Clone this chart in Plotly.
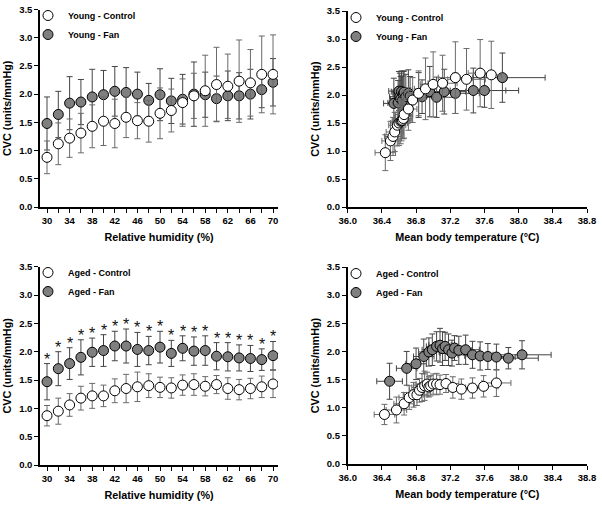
import plotly.graph_objects as go

# ---------------- data ----------------
rh = [30, 32, 34, 36, 38, 40, 42, 44, 46, 48, 50, 52, 54, 56, 58, 60, 62, 64, 66, 68, 70]
rh_ticks = list(range(30, 71, 2))
rh_ticktext = [str(v) if (v - 30) % 4 == 0 else "" for v in rh_ticks]

young_ctrl = [0.88, 1.12, 1.22, 1.31, 1.43, 1.52, 1.48, 1.59, 1.53, 1.52, 1.66, 1.71, 1.85, 1.97, 2.06, 2.17, 2.14, 2.23, 2.20, 2.35, 2.35]
young_ctrl_sd = [0.29, 0.37, 0.34, 0.35, 0.38, 0.43, 0.43, 0.36, 0.32, 0.37, 0.45, 0.38, 0.42, 0.40, 0.63, 0.66, 0.57, 0.73, 0.59, 0.68, 0.70]
young_fan = [1.48, 1.64, 1.84, 1.86, 1.95, 1.99, 2.05, 2.03, 2.00, 1.89, 1.99, 1.88, 1.91, 2.00, 1.99, 1.92, 1.97, 1.97, 2.00, 2.08, 2.21]
young_fan_sd = [0.47, 0.41, 0.47, 0.40, 0.49, 0.43, 0.44, 0.44, 0.39, 0.30, 0.46, 0.40, 0.44, 0.57, 0.40, 0.40, 0.44, 0.41, 0.44, 0.32, 0.42]

aged_ctrl = [0.87, 0.95, 1.06, 1.18, 1.22, 1.22, 1.31, 1.35, 1.38, 1.40, 1.37, 1.36, 1.41, 1.42, 1.39, 1.42, 1.35, 1.33, 1.35, 1.38, 1.43]
aged_ctrl_sd = [0.18, 0.23, 0.20, 0.21, 0.22, 0.19, 0.21, 0.25, 0.26, 0.21, 0.18, 0.18, 0.18, 0.19, 0.17, 0.16, 0.19, 0.18, 0.18, 0.19, 0.24]
aged_fan = [1.47, 1.70, 1.79, 1.90, 1.99, 2.02, 2.10, 2.10, 2.04, 2.02, 2.08, 1.97, 2.06, 2.01, 2.02, 1.92, 1.91, 1.89, 1.88, 1.86, 1.93]
aged_fan_sd = [0.32, 0.30, 0.28, 0.31, 0.25, 0.28, 0.26, 0.30, 0.30, 0.25, 0.28, 0.23, 0.22, 0.25, 0.26, 0.24, 0.25, 0.23, 0.23, 0.19, 0.25]

# young, CVC vs mean body temperature
yc_temp = [36.44, 36.50, 36.53, 36.55, 36.58, 36.60, 36.62, 36.63, 36.64, 36.65, 36.66, 36.71, 36.76, 36.83, 36.91, 37.00, 37.11, 37.26, 37.39, 37.55, 37.68]
yc_temp_sd = [0.12, 0.10, 0.10, 0.10, 0.10, 0.10, 0.10, 0.10, 0.10, 0.10, 0.10, 0.10, 0.11, 0.12, 0.13, 0.15, 0.17, 0.20, 0.22, 0.14, 0.12]
yc_cvc = [0.97, 1.18, 1.26, 1.34, 1.46, 1.50, 1.53, 1.54, 1.55, 1.58, 1.65, 1.75, 1.91, 2.03, 2.11, 2.19, 2.21, 2.31, 2.28, 2.39, 2.36]
yc_cvc_sd = [0.32, 0.35, 0.34, 0.35, 0.37, 0.40, 0.40, 0.36, 0.33, 0.36, 0.42, 0.38, 0.40, 0.40, 0.55, 0.58, 0.50, 0.64, 0.55, 0.60, 0.60]

yf_temp = [36.54, 36.59, 36.60, 36.61, 36.62, 36.63, 36.64, 36.65, 36.66, 36.68, 36.71, 36.73, 36.83, 36.87, 36.96, 37.04, 37.13, 37.26, 37.47, 37.60, 37.81]
yf_temp_sd = [0.12, 0.12, 0.12, 0.12, 0.12, 0.12, 0.12, 0.12, 0.13, 0.13, 0.14, 0.14, 0.16, 0.18, 0.20, 0.22, 0.25, 0.28, 0.38, 0.40, 0.50]
yf_cvc = [1.85, 1.86, 2.07, 1.97, 1.93, 2.06, 1.90, 2.02, 2.05, 1.97, 2.03, 1.98, 2.00, 1.97, 2.06, 1.96, 2.06, 2.03, 2.08, 2.08, 2.31]
yf_cvc_sd = [0.45, 0.40, 0.35, 0.42, 0.40, 0.37, 0.44, 0.40, 0.38, 0.40, 0.42, 0.35, 0.40, 0.30, 0.45, 0.36, 0.40, 0.36, 0.40, 0.30, 0.44]

# aged, CVC vs mean body temperature
ac_temp = [36.43, 36.57, 36.66, 36.72, 36.77, 36.81, 36.84, 36.87, 36.90, 36.93, 36.95, 36.97, 37.00, 37.04, 37.08, 37.15, 37.23, 37.33, 37.46, 37.59, 37.74]
ac_temp_sd = [0.12, 0.12, 0.12, 0.12, 0.12, 0.12, 0.12, 0.12, 0.13, 0.13, 0.13, 0.13, 0.13, 0.14, 0.14, 0.15, 0.15, 0.15, 0.16, 0.17, 0.17]
ac_cvc = [0.88, 0.96, 1.07, 1.18, 1.23, 1.23, 1.31, 1.36, 1.39, 1.42, 1.37, 1.39, 1.42, 1.42, 1.41, 1.43, 1.36, 1.33, 1.35, 1.38, 1.44]
ac_cvc_sd = [0.18, 0.23, 0.20, 0.21, 0.22, 0.19, 0.21, 0.25, 0.26, 0.21, 0.18, 0.18, 0.18, 0.19, 0.17, 0.16, 0.19, 0.18, 0.18, 0.19, 0.24]

af_temp = [36.49, 36.69, 36.80, 36.89, 36.95, 36.99, 37.04, 37.08, 37.11, 37.14, 37.18, 37.22, 37.25, 37.30, 37.38, 37.46, 37.55, 37.64, 37.74, 37.88, 38.04]
af_temp_sd = [0.15, 0.12, 0.12, 0.12, 0.12, 0.12, 0.12, 0.13, 0.13, 0.13, 0.14, 0.14, 0.15, 0.15, 0.16, 0.17, 0.18, 0.20, 0.22, 0.35, 0.34]
af_cvc = [1.47, 1.70, 1.78, 1.91, 1.99, 2.03, 2.09, 2.11, 2.05, 2.09, 2.03, 1.97, 2.06, 2.02, 2.03, 1.94, 1.92, 1.91, 1.90, 1.88, 1.94]
af_cvc_sd = [0.32, 0.30, 0.28, 0.31, 0.25, 0.28, 0.26, 0.30, 0.30, 0.25, 0.28, 0.23, 0.22, 0.25, 0.26, 0.24, 0.25, 0.23, 0.23, 0.19, 0.25]

cvc_ticks = [0.0, 0.5, 1.0, 1.5, 2.0, 2.5, 3.0, 3.5]
temp_ticks = [36.0, 36.4, 36.8, 37.2, 37.6, 38.0, 38.4, 38.8]

# ---------------- style ----------------
W, H = 602, 505
FONT = "Arial, 'Liberation Sans', Helvetica, sans-serif"
FILL_GREY = "#7f7f7f"
ERR_CTRL = "#6a6a6a"
ERR_FAN = "#444444"


def px_x(a, b):
    return [a / W, b / W]


def px_y(top, bottom):
    return [1 - bottom / H, 1 - top / H]


fig = go.Figure()


def add_pair(xa, ya, leg, x_f, y_f, ysd_f, x_c, y_c, ysd_c, name_f, name_c,
             xsd_f=None, xsd_c=None):
    fan = go.Scatter(
        x=x_f, y=y_f, mode="markers", name=name_f, xaxis=xa, yaxis=ya, legend=leg,
        marker=dict(size=10, color=FILL_GREY, line=dict(color="black", width=1)),
        error_y=dict(type="data", array=ysd_f, color=ERR_FAN, thickness=1, width=3),
        legendrank=2,
    )
    ctrl = go.Scatter(
        x=x_c, y=y_c, mode="markers", name=name_c, xaxis=xa, yaxis=ya, legend=leg,
        marker=dict(size=10, color="white", line=dict(color="black", width=1)),
        error_y=dict(type="data", array=ysd_c, color=ERR_CTRL, thickness=1, width=3),
        legendrank=1,
    )
    if xsd_f is not None:
        fan.error_x = dict(type="data", array=xsd_f, color=ERR_FAN, thickness=1, width=3)
    if xsd_c is not None:
        ctrl.error_x = dict(type="data", array=xsd_c, color=ERR_CTRL, thickness=1, width=3)
    fig.add_trace(fan)
    fig.add_trace(ctrl)


add_pair("x", "y", "legend", rh, young_fan, young_fan_sd, rh, young_ctrl, young_ctrl_sd,
         "Young - Fan", "Young - Control")
add_pair("x2", "y2", "legend2", yf_temp, yf_cvc, yf_cvc_sd, yc_temp, yc_cvc, yc_cvc_sd,
         "Young - Fan", "Young - Control", yf_temp_sd, yc_temp_sd)
add_pair("x3", "y3", "legend3", rh, aged_fan, aged_fan_sd, rh, aged_ctrl, aged_ctrl_sd,
         "Aged - Fan", "Aged - Control")
add_pair("x4", "y4", "legend4", af_temp, af_cvc, af_cvc_sd, ac_temp, ac_cvc, ac_cvc_sd,
         "Aged - Fan", "Aged - Control", af_temp_sd, ac_temp_sd)

# significance asterisks
for xv, yv, sd in zip(rh, aged_fan, aged_fan_sd):
    fig.add_annotation(x=xv, y=yv + sd, xref="x3", yref="y3", text="*", showarrow=False,
                       yanchor="bottom", yshift=-6,
                       font=dict(family=FONT, size=16, color="#111111"))

tick_font = dict(family=FONT, size=9.5, color="black", weight="bold")
title_font = dict(family=FONT, size=10.8, color="black", weight="bold")
leg_font = dict(family=FONT, size=9, color="black", weight="bold")

common_axis = dict(showline=True, linecolor="black", linewidth=1.5, ticks="outside",
                   ticklen=4, tickwidth=1.2, tickcolor="black", showgrid=False,
                   zeroline=False, tickfont=tick_font, mirror=False, automargin=False)

x_left = dict(common_axis, range=[28.76, 70.88], tickvals=rh_ticks, ticktext=rh_ticktext,
              title=dict(text="Relative humidity (%)", font=title_font, standoff=8))
x_right = dict(common_axis, range=[36.0, 38.8], tickvals=temp_ticks, tickformat=".1f",
               title=dict(text="Mean body temperature (°C)", font=title_font, standoff=8))
y_ax = dict(common_axis, range=[0, 3.5], tickvals=cvc_ticks, tickformat=".1f",
            title=dict(text="CVC (units/mmHg)", font=title_font, standoff=5))

fig.update_layout(
    width=W, height=H, margin=dict(l=0, r=0, t=0, b=0, autoexpand=False),
    paper_bgcolor="white", plot_bgcolor="white",
    xaxis=dict(x_left, domain=px_x(40, 278), anchor="y"),
    yaxis=dict(y_ax, domain=px_y(9.5, 207), anchor="x"),
    xaxis2=dict(x_right, domain=px_x(347.7, 587), anchor="y2"),
    yaxis2=dict(y_ax, domain=px_y(11, 207), anchor="x2"),
    xaxis3=dict(x_left, domain=px_x(40, 278), anchor="y3"),
    yaxis3=dict(y_ax, domain=px_y(266.7, 465), anchor="x3"),
    xaxis4=dict(x_right, domain=px_x(347.7, 587), anchor="y4"),
    yaxis4=dict(y_ax, domain=px_y(267, 464), anchor="x4"),
    legend=dict(x=28 / W, y=1 - 1 / H, xanchor="left", yanchor="top", font=leg_font,
                bgcolor="rgba(0,0,0,0)", itemwidth=30),
    legend2=dict(x=336 / W, y=1 - 3 / H, xanchor="left", yanchor="top", font=leg_font,
                 bgcolor="rgba(0,0,0,0)", itemwidth=30),
    legend3=dict(x=28 / W, y=1 - 258 / H, xanchor="left", yanchor="top", font=leg_font,
                 bgcolor="rgba(0,0,0,0)", itemwidth=30),
    legend4=dict(x=336 / W, y=1 - 259 / H, xanchor="left", yanchor="top", font=leg_font,
                 bgcolor="rgba(0,0,0,0)", itemwidth=30),
    showlegend=True,
)

fig.write_html(
    "out.html",
    config={"displayModeBar": False},
    post_script="document.body.style.margin='0';document.body.style.padding='0';",
)
